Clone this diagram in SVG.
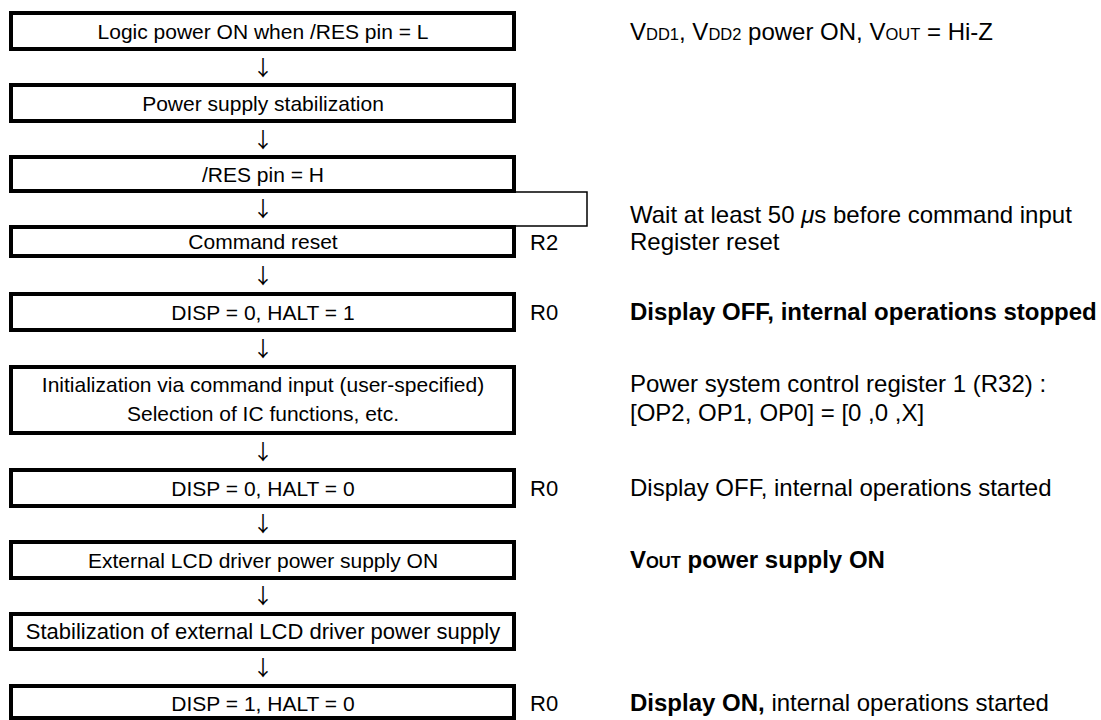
<svg xmlns="http://www.w3.org/2000/svg" width="1101" height="720" viewBox="0 0 1101 720">
<style>
.box{fill:#fff;stroke:#000;stroke-width:4}
.bt{font-family:"Liberation Sans",Arial,sans-serif;font-size:21px;fill:#000;text-anchor:middle}
.bt.w{font-size:22px}
.rt{font-family:"Liberation Sans",Arial,sans-serif;font-size:24px;fill:#000}
.rl{font-family:"Liberation Sans",Arial,sans-serif;font-size:22px;fill:#000}
.b{font-weight:bold}
.sm{font-size:16.5px}
.arr{font-family:"Noto Sans CJK JP","DejaVu Sans",sans-serif;font-size:21px;fill:#000;text-anchor:middle}
.thin{fill:none;stroke:#000;stroke-width:1.5}
</style>
<rect width="1101" height="720" fill="#fff"/>
<g id="connectors">
<path class="thin" d="M514 192 H587 V226 H514"/>
<text class="arr" x="263" y="75">↓</text>
<text class="arr" x="263" y="147">↓</text>
<text class="arr" x="263" y="216">↓</text>
<text class="arr" x="263" y="283">↓</text>
<text class="arr" x="263" y="356">↓</text>
<text class="arr" x="263" y="459">↓</text>
<text class="arr" x="263" y="531">↓</text>
<text class="arr" x="263" y="603">↓</text>
<text class="arr" x="263" y="675">↓</text>
</g>
<g id="n1"><rect class="box" x="11" y="13" width="503" height="36"/><text class="bt" x="263" y="38.5">Logic power ON when /RES pin = L</text></g>
<g id="n2"><rect class="box" x="11" y="85" width="503" height="36"/><text class="bt" x="263" y="110.5">Power supply stabilization</text></g>
<g id="n3"><rect class="box" x="11" y="157" width="503" height="34"/><text class="bt" x="263" y="181.5">/RES pin = H</text></g>
<g id="n4"><rect class="box" x="11" y="227" width="503" height="29"/><text class="bt" x="263" y="249">Command reset</text></g>
<g id="n5"><rect class="box" x="11" y="294" width="503" height="36"/><text class="bt" x="263" y="319.5">DISP = 0, HALT = 1</text></g>
<g id="n6"><rect class="box" x="11" y="367" width="503" height="66"/><text class="bt" x="263" y="392">Initialization via command input (user-specified)</text><text class="bt" x="263" y="421">Selection of IC functions, etc.</text></g>
<g id="n7"><rect class="box" x="11" y="470" width="503" height="36"/><text class="bt" x="263" y="495.5">DISP = 0, HALT = 0</text></g>
<g id="n8"><rect class="box" x="11" y="542" width="503" height="36"/><text class="bt" x="263" y="567.5">External LCD driver power supply ON</text></g>
<g id="n9"><rect class="box" x="11" y="614" width="503" height="35"/><text class="bt w" x="263" y="639">Stabilization of external LCD driver power supply</text></g>
<g id="n10"><rect class="box" x="11" y="686" width="503" height="32"/><text class="bt" x="263" y="710.5">DISP = 1, HALT = 0</text></g>
<g id="labels">
<text class="rl" x="530" y="250">R2</text>
<text class="rl" x="530" y="320">R0</text>
<text class="rl" x="530" y="496">R0</text>
<text class="rl" x="530" y="711">R0</text>
<text class="rt" x="630" y="40">V<tspan class="sm">DD1</tspan>, V<tspan class="sm">DD2</tspan> power ON, V<tspan class="sm">OUT</tspan> = Hi-Z</text>
<text class="rt" x="630" y="223">Wait at least 50 <tspan font-style="italic">μ</tspan>s before command input</text>
<text class="rt" x="630" y="250">Register reset</text>
<text class="rt b" x="630" y="320">Display OFF, internal operations stopped</text>
<text class="rt" x="630" y="392">Power system control register 1 (R32) :</text>
<text class="rt" x="630" y="421">[OP2, OP1, OP0] = [0 ,0 ,X]</text>
<text class="rt" x="630" y="496">Display OFF, internal operations started</text>
<text class="rt b" x="630" y="568">V<tspan class="sm">OUT</tspan> power supply ON</text>
<text class="rt" x="630" y="711"><tspan class="b">Display ON,</tspan> internal operations started</text>
</g>
</svg>
